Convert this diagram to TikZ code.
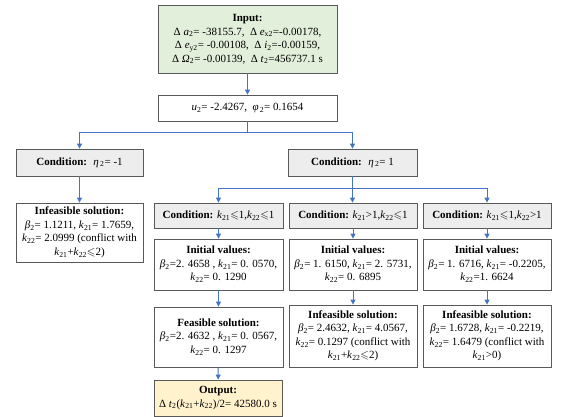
\documentclass[tikz,border=0pt]{standalone}
\usepackage{amssymb}
\usepackage{fontspec}
\setmainfont{Liberation Serif}
\usetikzlibrary{arrows.meta}
\newcommand{\sbs}[1]{\textsubscript{#1}}
\newcommand{\iv}[1]{\textit{#1}}
\newcommand{\leqs}{\ensuremath{\leqslant}}
\definecolor{arrowblue}{HTML}{4472C4}
\definecolor{boxgray}{HTML}{595959}
\definecolor{inputgreen}{HTML}{E2EFDA}
\definecolor{condgray}{HTML}{EDEDED}
\definecolor{outorange}{HTML}{FFF2CC}
\begin{document}
\begin{tikzpicture}[x=1pt,y=-1pt,
  box/.style={draw=boxgray, line width=0.8pt, fill=white, align=center, inner sep=0.5pt,
     font=\fontsize{11}{13.5}\selectfont},
  condbox/.style={box, fill=condgray},
  arr/.style={draw=arrowblue, line width=1pt, -{Triangle[length=5pt,width=5pt]}},
  ln/.style={draw=arrowblue, line width=1pt}]
\useasboundingbox (0,0) rectangle (562,417);
% top
\node[box, fill=inputgreen, minimum width=179pt, minimum height=68pt] (inp) at (247.5,39)
 {\textbf{Input:}\\ Δ \iv{a}\sbs{2}= -38155.7, \ Δ \iv{e}\sbs{x2}=-0.00178,\\ Δ \iv{e}\sbs{y2}= -0.00108, \ Δ \iv{i}\sbs{2}=-0.00159,\\ Δ \iv{Ω}\sbs{2}= -0.00139, \ Δ \iv{t}\sbs{2}=456737.1 s};
\node[box, minimum width=179pt, minimum height=26pt] (u) at (247.5,108)
 {\iv{u}\sbs{2}= -2.4267, \ \iv{φ}\sbs{\,2}= 0.1654};
% conditions level 1
\node[condbox, minimum width=127pt, minimum height=27pt] (c1) at (79.5,162.5)
 {\textbf{Condition:} \ \iv{η}\sbs{\,2}= -1};
\node[condbox, minimum width=129pt, minimum height=27pt] (c2) at (352.5,162.5)
 {\textbf{Condition:} \ \iv{η}\sbs{\,2}= 1};
\node[box, minimum width=127pt, minimum height=59pt] (inf1) at (79.5,232.5)
 {\textbf{Infeasible solution:}\\ \iv{β}\sbs{2}= 1.1211, \iv{k}\sbs{21}= 1.7659,\\ \iv{k}\sbs{22}= 2.0999 (conflict with\\ \iv{k}\sbs{21}+\iv{k}\sbs{22}\leqs2)};
% conditions level 2
\node[condbox, minimum width=129pt, minimum height=25pt] (k1) at (218.5,215.5)
 {\textbf{Condition:} \iv{k}\sbs{21}\leqs1,\iv{k}\sbs{22}\leqs1};
\node[condbox, minimum width=128pt, minimum height=25pt] (k2) at (353,215.5)
 {\textbf{Condition:} \iv{k}\sbs{21}>1,\iv{k}\sbs{22}\leqs1};
\node[condbox, minimum width=128pt, minimum height=25pt] (k3) at (487,215.5)
 {\textbf{Condition:} \iv{k}\sbs{21}\leqs1,\iv{k}\sbs{22}>1};
% initial values
\node[box, minimum width=129pt, minimum height=51pt] (i1) at (218.5,264.5)
 {\textbf{Initial values:}\\ \iv{β}\sbs{2}=2. 4658 , \iv{k}\sbs{21}= 0. 0570,\\ \iv{k}\sbs{22}= 0. 1290};
\node[box, minimum width=128pt, minimum height=51pt] (i2) at (353,264.5)
 {\textbf{Initial values:}\\ \iv{β}\sbs{2}= 1. 6150, \iv{k}\sbs{21}= 2. 5731,\\ \iv{k}\sbs{22}= 0. 6895};
\node[box, minimum width=128pt, minimum height=51pt] (i3) at (487,264.5)
 {\textbf{Initial values:}\\ \iv{β}\sbs{2}= 1. 6716, \iv{k}\sbs{21}= -0.2205,\\ \iv{k}\sbs{22}=1. 6624};
% solutions
\node[box, minimum width=129pt, minimum height=60pt] (s1) at (218.5,337)
 {\textbf{Feasible solution:}\\ \iv{β}\sbs{2}=2. 4632 , \iv{k}\sbs{21}= 0. 0567,\\ \iv{k}\sbs{22}= 0. 1297};
\node[box, minimum width=128pt, minimum height=62pt] (s2) at (353,336)
 {\textbf{Infeasible solution:}\\ \iv{β}\sbs{2}= 2.4632, \iv{k}\sbs{21}= 4.0567,\\ \iv{k}\sbs{22}= 0.1297 (conflict with\\ \iv{k}\sbs{21}+\iv{k}\sbs{22}\leqs2)};
\node[box, minimum width=128pt, minimum height=62pt] (s3) at (487,336)
 {\textbf{Infeasible solution:}\\ \iv{β}\sbs{2}= 1.6728, \iv{k}\sbs{21}= -0.2219,\\ \iv{k}\sbs{22}= 1.6479 (conflict with\\ \iv{k}\sbs{21}>0)};
\node[box, fill=outorange, minimum width=128pt, minimum height=36pt] (out) at (218,398)
 {\textbf{Output:}\\ Δ \iv{t}\sbs{2}(\iv{k}\sbs{21}+\iv{k}\sbs{22})/2= 42580.0 s};
% connectors
\coordinate (b1) at (247.5,133);
\draw[arr] (inp) -- (u);
\draw[ln] (u.south) -- (b1);
\draw[arr] (b1) -| (c1.north);
\draw[arr] (b1) -| (c2.north);
\draw[arr] (c1) -- (inf1);
\coordinate (b2) at (352.5,188);
\draw[ln] (c2.south) -- (b2);
\draw[arr] (b2) -| (k1.north);
\draw[arr] (b2) -| (k3.north);
\draw[arr] (b2) -- (b2 |- k2.north);
\draw[arr] (k1) -- (i1);
\draw[arr] (k2) -- (i2);
\draw[arr] (k3) -- (i3);
\draw[arr] (i1) -- (i1 |- s1.north);
\draw[arr] (i2) -- (s2);
\draw[arr] (i3) -- (s3);
\draw[arr] (s1) -- (out);
\end{tikzpicture}
\end{document}
